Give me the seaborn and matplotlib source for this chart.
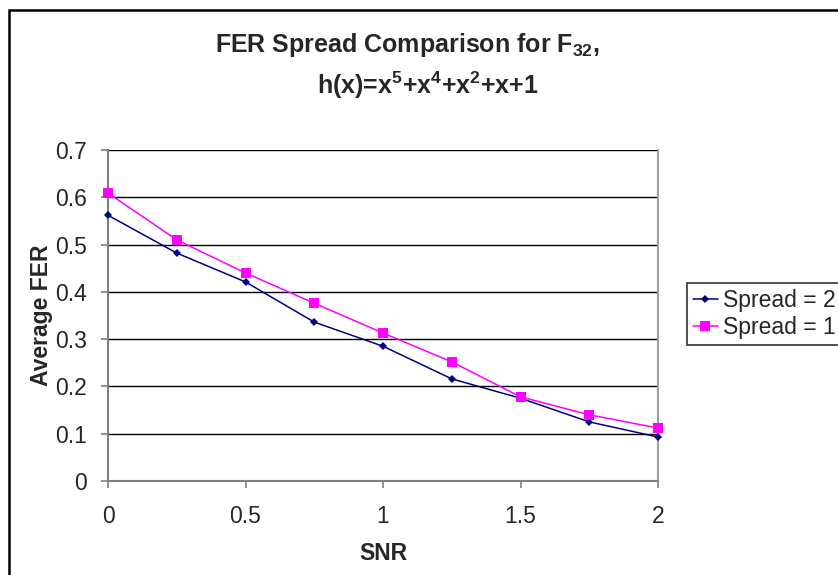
import matplotlib
matplotlib.use("Agg")
import matplotlib.pyplot as plt
import seaborn as sns
import pandas as pd
from matplotlib.patches import Rectangle
from matplotlib.lines import Line2D

snr = [0, 0.25, 0.5, 0.75, 1.0, 1.25, 1.5, 1.75, 2.0]
spread2 = [0.562, 0.482, 0.421, 0.336, 0.285, 0.216, 0.175, 0.125, 0.093]
spread1 = [0.609, 0.510, 0.440, 0.376, 0.313, 0.252, 0.178, 0.140, 0.112]
series_names = ["Spread = 2", "Spread = 1"]
x_ticks = [0, 0.5, 1, 1.5, 2]
x_tick_labels = ["0", "0.5", "1", "1.5", "2"]
y_ticks = [0, 0.1, 0.2, 0.3, 0.4, 0.5, 0.6, 0.7]
y_tick_labels = ["0", "0.1", "0.2", "0.3", "0.4", "0.5", "0.6", "0.7"]

sns.set_style("white")
plt.rcParams["font.family"] = ["Liberation Sans", "DejaVu Sans"]
plt.rcParams["mathtext.fontset"] = "custom"
plt.rcParams["mathtext.rm"] = "Liberation Sans:bold"
plt.rcParams["mathtext.it"] = "Liberation Sans:bold"
plt.rcParams["mathtext.bf"] = "Liberation Sans:bold"

df = pd.DataFrame({
    "SNR": snr * 2,
    "FER": spread2 + spread1,
    "Series": [series_names[0]] * len(snr) + [series_names[1]] * len(snr),
})

W, H = 838, 575
fig = plt.figure(figsize=(W / 100, H / 100), dpi=100)
ax = fig.add_axes([108 / W, 1 - 481 / H, 550 / W, 331 / H])

palette = {series_names[0]: "#000080", series_names[1]: "#FF00FF"}
markers = {series_names[0]: "D", series_names[1]: "s"}
sns.lineplot(data=df, x="SNR", y="FER", hue="Series", style="Series",
             palette=palette, markers=markers, dashes=False, ax=ax,
             linewidth=1.1, markersize=6, markeredgewidth=0, legend=False)
for line in ax.lines:
    line.set_clip_on(False)
    line.set_zorder(5)
    if line.get_marker() == "D":
        line.set_markersize(4.5)
    elif line.get_marker() == "s":
        line.set_markersize(7)

ax.set_xlim(0, 2)
ax.set_ylim(0, 0.7)
ax.set_xticks(x_ticks)
ax.set_xticklabels(x_tick_labels, fontsize=16.5)
ax.set_yticks(y_ticks)
ax.set_yticklabels(y_tick_labels, fontsize=16.5)
ax.yaxis.grid(True, color="black", linewidth=1.0)
ax.set_axisbelow(True)
ax.tick_params(axis="x", direction="out", length=5, width=1.2, color="#808080",
               bottom=True, pad=12)
ax.tick_params(axis="y", direction="out", length=5, width=1.2, color="#808080",
               left=True, pad=10)
for side in ["left", "bottom"]:
    ax.spines[side].set_color("#808080")
    ax.spines[side].set_linewidth(1.5)
ax.spines["top"].set_visible(False)
ax.spines["right"].set_color("#a0a0a0")
ax.spines["right"].set_linewidth(1.5)

ax.set_xlabel("SNR", fontsize=16.5, fontweight="bold", labelpad=10)
ax.set_ylabel("Average FER", fontsize=16.5, fontweight="bold", labelpad=2)

fig.text(407 / W, 1 - 45 / H, r"FER Spread Comparison for F$_{32}$,",
         fontsize=18, fontweight="bold", ha="center", va="center")
fig.text(428 / W, 1 - 85 / H, r"h(x)=x$^5$+x$^4$+x$^2$+x+1",
         fontsize=18, fontweight="bold", ha="center", va="center")

handles = [Line2D([], [], color="#000080", marker="D", markersize=4.5, markeredgewidth=0, linewidth=1.1),
           Line2D([], [], color="#FF00FF", marker="s", markersize=7, markeredgewidth=0, linewidth=1.1)]
leg = fig.legend(handles, series_names, loc="upper left",
                 bbox_to_anchor=(687 / W, 1 - 283 / H), bbox_transform=fig.transFigure,
                 fontsize=16.5, frameon=True, fancybox=False, shadow=False,
                 borderpad=0.25, handlelength=1.1, handletextpad=0.2, labelspacing=0.2,
                 borderaxespad=0)
leg.get_frame().set_edgecolor("black")
leg.get_frame().set_linewidth(1.2)

fig.add_artist(Rectangle((9 / W, -0.1), 1.2, 1.1 - 10 / H, transform=fig.transFigure,
                         fill=False, edgecolor="black", linewidth=1.8))

fig.savefig("out.png", dpi=100)
